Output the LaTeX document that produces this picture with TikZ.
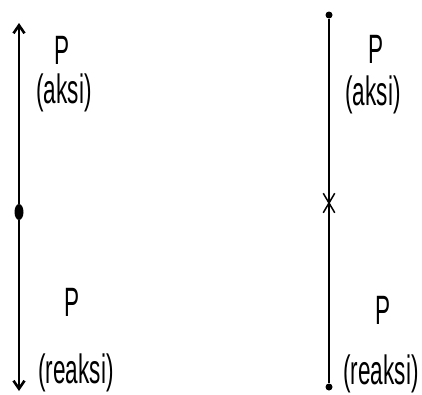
\documentclass[tikz,border=0pt]{standalone}
\usepackage{fontspec}
\setmainfont{Liberation Sans}
\usetikzlibrary{arrows.meta, shapes.geometric, shapes.misc}

\begin{document}
\begin{tikzpicture}[
    x=1pt, y=-1pt,
    force/.style={line width=2.8pt},
    thin force/.style={line width=1.6pt},
    barb/.style={-{Straight Barb[length=8pt, width=11pt, line width=2.6pt]}},
    lbl/.style={font=\fontsize{41}{44}\selectfont, xscale=0.55, transform shape, inner sep=0pt},
    joint/.style={ellipse, fill, inner sep=0pt, minimum width=9pt, minimum height=16pt},
    pin/.style={circle, fill, inner sep=0pt, minimum size=7pt},
    cut/.style={cross out, draw, line width=1.5pt, inner sep=0pt, minimum width=10pt, minimum height=18pt},
]
\useasboundingbox (0,0) rectangle (422,394);

% Left bar
\coordinate (ltop) at (19,23);
\coordinate (lbot) at (19,391);
\node[joint] (lmid) at (19,212) {};
\draw[force, barb] (lmid) -- (ltop);
\draw[force, barb] (lmid) -- (lbot);

\node[lbl] (lp1) at (62,50) {P};
\node[lbl] (lakt) at (64,93) {(aksi)};
\node[lbl] (lp2) at (72,302) {P};
\node[lbl] (lreak) at (76,373) {(reaksi)};

% Right bar
\node[pin] (rtop) at (329,15) {};
\node[pin] (rbot) at (329,387) {};
\node[cut] (rmid) at (329,203) {};
\draw[thin force] (rtop) -- (rbot);

\node[lbl] (rp1) at (376,49) {P};
\node[lbl] (rakt) at (373,95) {(aksi)};
\node[lbl] (rp2) at (383,310) {P};
\node[lbl] (rreak) at (381,374) {(reaksi)};

\end{tikzpicture}
\end{document}
